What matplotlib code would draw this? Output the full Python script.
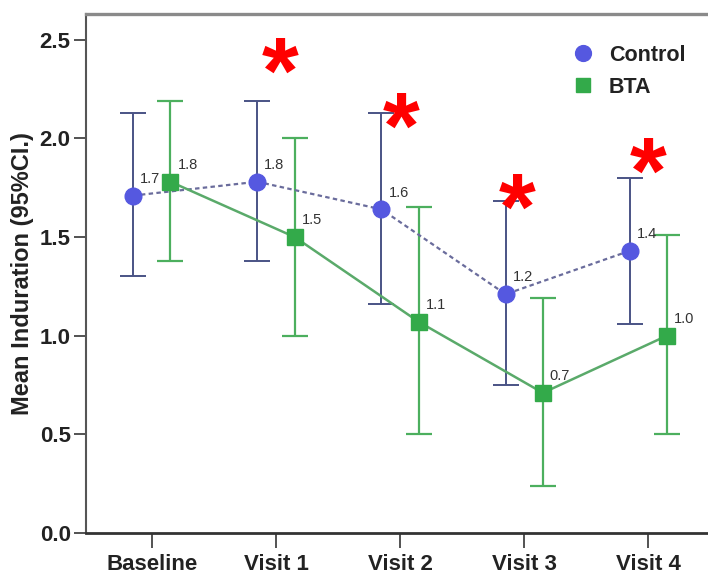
import matplotlib
matplotlib.use("Agg")
import matplotlib.pyplot as plt
import numpy as np

categories = ["Baseline", "Visit 1", "Visit 2", "Visit 3", "Visit 4"]
control_mean = [1.71, 1.78, 1.64, 1.21, 1.43]
control_lo = [1.30, 1.38, 1.16, 0.75, 1.06]
control_hi = [2.13, 2.19, 2.13, 1.68, 1.80]
bta_mean = [1.78, 1.50, 1.07, 0.71, 1.00]
bta_lo = [1.38, 1.00, 0.50, 0.24, 0.50]
bta_hi = [2.19, 2.00, 1.65, 1.19, 1.51]
control_labels = ["1.7", "1.8", "1.6", "1.2", "1.4"]
bta_labels = ["1.8", "1.5", "1.1", "0.7", "1.0"]
star_x = [1.03, 2.01, 2.94, 4.0]
star_y = [2.41, 2.13, 1.72, 1.90]

plt.rcParams['font.family'] = ['Liberation Sans', 'DejaVu Sans']

fig = plt.figure(figsize=(7.08, 5.77), dpi=100)
ax = fig.add_axes([0.1215, 0.0763, 0.8785, 0.8994])

x = np.arange(len(categories))
off = 0.15
xc = x - off
xb = x + off

c_blue = '#5558e0'
c_bar_blue = '#4a5385'
c_green = '#33aa4a'
c_bar_green = '#4caf5e'

cm = np.array(control_mean); bm = np.array(bta_mean)
c_err = [cm - np.array(control_lo), np.array(control_hi) - cm]
b_err = [bm - np.array(bta_lo), np.array(bta_hi) - bm]

ax.errorbar(xc, cm, yerr=c_err, fmt='none', ecolor=c_bar_blue, elinewidth=1.4,
            capsize=9.4, capthick=1.4, zorder=2)
ax.errorbar(xb, bm, yerr=b_err, fmt='none', ecolor=c_bar_green, elinewidth=1.6,
            capsize=9.4, capthick=1.6, zorder=2)
ax.plot(xc, cm, color='#6a6c9c', lw=1.6, ls=(0, (2, 1.5)), zorder=3)
ax.plot(xb, bm, color='#5aaa6a', lw=1.8, zorder=3)
ax.plot(xc, cm, 'o', color=c_blue, ms=12, mec=c_blue, zorder=4, label='Control', ls='none')
ax.plot(xb, bm, 's', color=c_green, ms=11, mec=c_green, zorder=4, label='BTA', ls='none')

for xi, yi, t in zip(xc, cm, control_labels):
    ax.annotate(t, (xi, yi), xytext=(5, 7), textcoords='offset points',
                ha='left', va='bottom', fontsize=10.5, color='#333333')
for xi, yi, t in zip(xb, bm, bta_labels):
    ax.annotate(t, (xi, yi), xytext=(5, 7), textcoords='offset points',
                ha='left', va='bottom', fontsize=10.5, color='#333333')

for sx, sy in zip(star_x, star_y):
    ax.annotate('*', (sx, sy), xytext=(0, -14.8), textcoords='offset points',
                ha='center', va='center', fontsize=68, fontweight='bold', color='#ff0000')

ax.set_xlim(-0.53, 4.48)
ax.set_ylim(0, 2.63)
ax.set_yticks([0.0, 0.5, 1.0, 1.5, 2.0, 2.5])
ax.set_yticklabels(['0.0', '0.5', '1.0', '1.5', '2.0', '2.5'])
ax.set_xticks(x)
ax.set_xticklabels(categories)
ax.tick_params(axis='y', length=9, width=1.3, color='#444444', labelsize=16, pad=2)
ax.tick_params(axis='x', length=11, width=1.3, color='#444444', labelsize=16, pad=4)
for lab in ax.get_xticklabels() + ax.get_yticklabels():
    lab.set_fontweight('bold')
    lab.set_color('#222222')
ax.set_ylabel('Mean Induration (95%CI.)', fontsize=17, fontweight='bold', color='#222222', labelpad=4)

ax.spines['right'].set_visible(False)
ax.spines['top'].set_color('#8a8a8a')
ax.spines['top'].set_linewidth(2.4)
ax.spines['left'].set_color('#555555')
ax.spines['left'].set_linewidth(1.5)
ax.spines['bottom'].set_color('#333333')
ax.spines['bottom'].set_linewidth(2.0)

leg = ax.legend(loc='upper right', bbox_to_anchor=(0.995, 0.978), frameon=False,
                fontsize=15.5, handletextpad=0.7, labelspacing=0.5, handlelength=1.0,
                markerscale=0.95)
for t in leg.get_texts():
    t.set_fontweight('bold')
    t.set_color('#222222')

fig.savefig('out.png', dpi=100)
